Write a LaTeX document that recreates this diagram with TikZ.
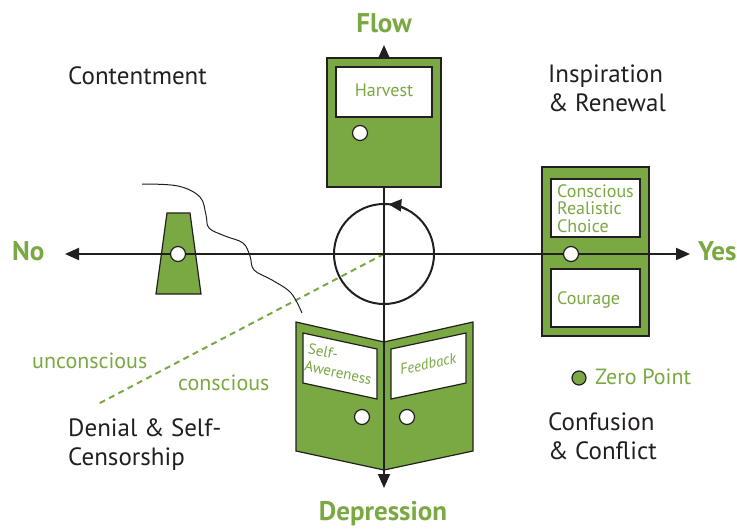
\documentclass[tikz,border=0pt]{standalone}
\usepackage{fontspec}
\setmainfont{PT Sans}
\usetikzlibrary{arrows.meta}
\definecolor{gr}{RGB}{122,168,66}
\definecolor{ink}{RGB}{35,31,32}
\begin{document}
\begin{tikzpicture}[x=1pt,y=-1pt,
  axis/.style={draw=ink, line width=2pt},
  tipped/.style={-{Triangle[length=14pt,width=12pt]}},
  door/.style={draw=ink, fill=gr, line width=1.2pt, line join=miter},
  pane/.style={draw=ink, fill=white, line width=1.2pt},
  knob/.style={circle, draw=ink, fill=white, line width=1.2pt, minimum size=15pt, inner sep=0pt},
  big/.style={font=\fontsize{25}{28.5}\selectfont, text=ink, align=left, inner sep=0pt},
  pole/.style={font=\fontsize{27}{30}\selectfont\bfseries, text=gr, inner sep=0pt},
  small/.style={font=\fontsize{22}{24}\selectfont, text=gr, inner sep=0pt},
  panetext/.style={font=\fontsize{18}{17.5}\selectfont, text=gr, inner sep=0pt, align=left},
  doortext/.style={font=\fontsize{15}{17.5}\selectfont, text=gr, inner sep=0pt, align=left},
]
\useasboundingbox (0,0) rectangle (737,528);
\coordinate (O) at (384,254);
\coordinate (W) at (65,254);
\coordinate (E) at (690,254);
\coordinate (T) at (384,45);
\coordinate (S) at (384,488);
\coordinate (D) at (98,404);

% dashed conscious / unconscious divider
\draw[gr, line width=2pt, dash pattern=on 6pt off 4.5pt] (O) -- (D);

% wavy line
\draw[ink, line width=1pt] plot[smooth, tension=0.6] coordinates {(142,184) (178,186) (200,197) (206,215) (209,228) (225,236) (243,243) (250,256) (254,270) (272,280) (291,293) (302,313)};

% bottom doors
\draw[door] (296,322) -- (384,342) -- (384,470) -- (296,451) -- cycle;
\draw[door] (473,322) -- (384,342) -- (384,470) -- (473,451) -- cycle;
\draw[pane] (303,333) -- (377,349) -- (377,399) -- (303,383) -- cycle;
\draw[pane] (391,349) -- (466,333) -- (466,383) -- (391,399) -- cycle;

% trapezoid
\draw[door] (167,213) -- (190,213) -- (201,294) -- (156,294) -- cycle;

% right door
\draw[door] (542,167) rectangle (649,336);
\draw[pane] (551,179) rectangle (640,237);
\draw[pane] (551,269) rectangle (640,327);

% axes
\draw[axis, tipped] (O) -- (W);
\draw[axis, tipped] (O) -- (E);
\draw[axis, tipped] (O) -- (T);
\draw[axis, tipped] (O) -- (S);

% harvest door
\draw[door] (327,58) rectangle (441,187);
\draw[pane] (336,67) rectangle (432,117);

% knobs
\node[knob] (k1) at (360,133) {};
\node[knob] (k2) at (178,254) {};
\node[knob] (k3) at (571,254) {};
\node[knob] (k4) at (362,417) {};
\node[knob] (k5) at (407,417) {};

% cycle circle
\node[circle, draw=ink, line width=2pt, minimum size=100pt, inner sep=0pt] (cyc) at (O) {};
\draw[ink, line width=2pt, -{Triangle[length=13pt,width=12pt]}] ([shift={(62:50pt)}]O) arc[start angle=62, end angle=85, radius=50pt];

% texts
\node[pole, anchor=base] (flow) at (384,32) {Flow};
\node[pole, anchor=base] (dep) at (383,520) {Depression};
\node[pole, anchor=base west] (no) at (12,260) {No};
\node[pole, anchor=base west] (yes) at (698,260) {Yes};

\node[big, anchor=base west] (cont) at (68,84) {Contentment};
\node[big, anchor=base west] (insp) at (548,111) {Inspiration\\\& Renewal};
\node[big, anchor=base west] (den) at (68,465) {Denial \& Self-\\Censorship};
\node[big, anchor=base west] (conf) at (548,459) {Confusion\\\& Conflict};

\node[small, anchor=base west] (unc) at (32,368) {unconscious};
\node[small, anchor=base west] (con) at (178,390) {conscious};

\node[panetext, anchor=base] (harv) at (384,96) {Harvest};
\node[panetext, anchor=base west] (ccr) at (557,232) {Conscious\\Realistic\\Choice};
\node[panetext, anchor=base west] (cour) at (557,304) {Courage};
\node[doortext, rotate=-12] (sa) at (340,364) {Self-\\Awereness};
\node[doortext, rotate=12, font=\fontsize{15}{17.5}\selectfont\itshape] (fb) at (428,364) {Feedback};

% legend
\node[knob, fill=gr, minimum size=14pt] (zp) at (579,378) {};
\node[small, anchor=base west] (zpt) at (595,384) {Zero Point};
\end{tikzpicture}
\end{document}
